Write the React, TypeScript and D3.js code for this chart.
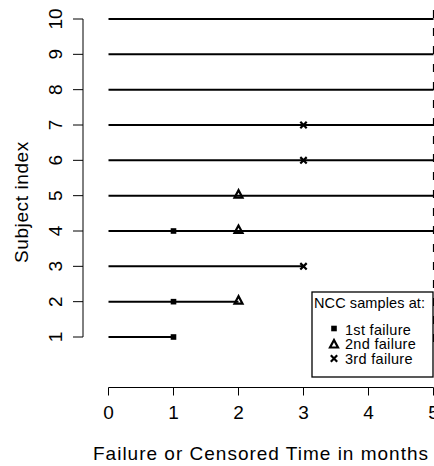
import React from "react";
import * as d3 from "d3";

const subjects = [1, 2, 3, 4, 5, 6, 7, 8, 9, 10];
const endTimes = [1, 2, 3, 5, 5, 5, 5, 5, 5, 5];
const firstFailSubjects = [1, 2, 4];
const firstFailTime = 1;
const secondFailSubjects = [2, 4, 5];
const secondFailTime = 2;
const thirdFailSubjects = [3, 6, 7];
const thirdFailTime = 3;
const xTicks = [0, 1, 2, 3, 4, 5];
const yTicks = [1, 2, 3, 4, 5, 6, 7, 8, 9, 10];
const legendLabels = ["1st failure", "2nd failure", "3rd failure"];
const xTitle = "Failure or Censored Time in months";
const yTitle = "Subject index";
const legendTitle = "NCC samples at:";

const W = 434;
const H = 466;
const FONT = "'Liberation Sans', Arial, Helvetica, sans-serif";

const Square = ({ x, y }: { x: number; y: number }) => (
  <rect x={x - 2.8} y={y - 2.8} width={5.6} height={5.6} fill="#000" />
);
const Tri = ({ x, y }: { x: number; y: number }) => (
  <path
    d={`M${x},${y - 5.5} L${x - 4},${y + 2} L${x + 4},${y + 2} Z`}
    fill="none"
    stroke="#000"
    strokeWidth={2.2}
    strokeLinejoin="miter"
  />
);
const Cross = ({ x, y }: { x: number; y: number }) => (
  <path
    d={`M${x - 3.2},${y - 3.2} L${x + 3.2},${y + 3.2} M${x - 3.2},${y + 3.2} L${x + 3.2},${y - 3.2}`}
    stroke="#000"
    strokeWidth={2.2}
  />
);

export default function App() {
  const x = d3.scaleLinear().domain([0, 5]).range([108.5, 433.5]);
  const y = d3.scaleLinear().domain([1, 10]).range([337, 19]);
  const axisY = 387.5;
  const axisX = 83;

  return (
    <div style={{ position: "absolute", left: 0, top: 0 }}>
      <svg width={W} height={H} style={{ display: "block", background: "#fff" }} fontFamily={FONT}>
        {/* subject lines */}
        {subjects.map((s, i) => (
          <line
            key={s}
            x1={x(0)}
            x2={x(endTimes[i])}
            y1={y(s)}
            y2={y(s)}
            stroke="#000"
            strokeWidth={2}
          />
        ))}
        {/* dashed vertical at end of follow-up */}
        <line
          x1={x(5)}
          x2={x(5)}
          y1={y(10) - 9}
          y2={y(1) + 14}
          stroke="#000"
          strokeWidth={1.2}
          strokeDasharray="8,10"
        />
        {firstFailSubjects.map((s) => (
          <Square key={"a" + s} x={x(firstFailTime)} y={y(s)} />
        ))}
        {secondFailSubjects.map((s) => (
          <Tri key={"b" + s} x={x(secondFailTime)} y={y(s)} />
        ))}
        {thirdFailSubjects.map((s) => (
          <Cross key={"c" + s} x={x(thirdFailTime)} y={y(s)} />
        ))}

        {/* x axis */}
        <line x1={x(0)} x2={x(5)} y1={axisY} y2={axisY} stroke="#000" strokeWidth={1} />
        {xTicks.map((t) => (
          <g key={t}>
            <line x1={x(t)} x2={x(t)} y1={axisY} y2={axisY + 8} stroke="#000" strokeWidth={1} />
            <text x={x(t)} y={418.5} textAnchor="middle" fontSize={19}>
              {t}
            </text>
          </g>
        ))}
        <text x={93} y={459.5} fontSize={19} letterSpacing={1.0}>
          {xTitle}
        </text>

        {/* y axis */}
        <line x1={axisX} x2={axisX} y1={y(1)} y2={y(10)} stroke="#000" strokeWidth={1} />
        {yTicks.map((t) => (
          <g key={t}>
            <line x1={axisX - 10} x2={axisX} y1={y(t)} y2={y(t)} stroke="#000" strokeWidth={1} />
            <text
              transform={`translate(62,${y(t)}) rotate(-90)`}
              textAnchor="middle"
              fontSize={19}
            >
              {t}
            </text>
          </g>
        ))}
        <text
          transform={`translate(28,263) rotate(-90)`}
          fontSize={19}
          letterSpacing={0.6}
        >
          {yTitle}
        </text>

        {/* legend */}
        <rect x={312} y={292} width={121} height={85} fill="#fff" stroke="#000" strokeWidth={1.3} />
        <text x={314} y={308} fontSize={14.5} letterSpacing={0.1}>
          {legendTitle}
        </text>
        {legendLabels.map((l, i) => {
          const ly = 329.5 + i * 14.5;
          return (
            <g key={l}>
              {i === 0 && <Square x={334} y={ly - 1} />}
              {i === 1 && <Tri x={334} y={ly + 1.5} />}
              {i === 2 && <Cross x={334} y={ly} />}
              <text x={345} y={ly + 5} fontSize={14.5} letterSpacing={0.3}>
                {l}
              </text>
            </g>
          );
        })}
      </svg>
    </div>
  );
}
